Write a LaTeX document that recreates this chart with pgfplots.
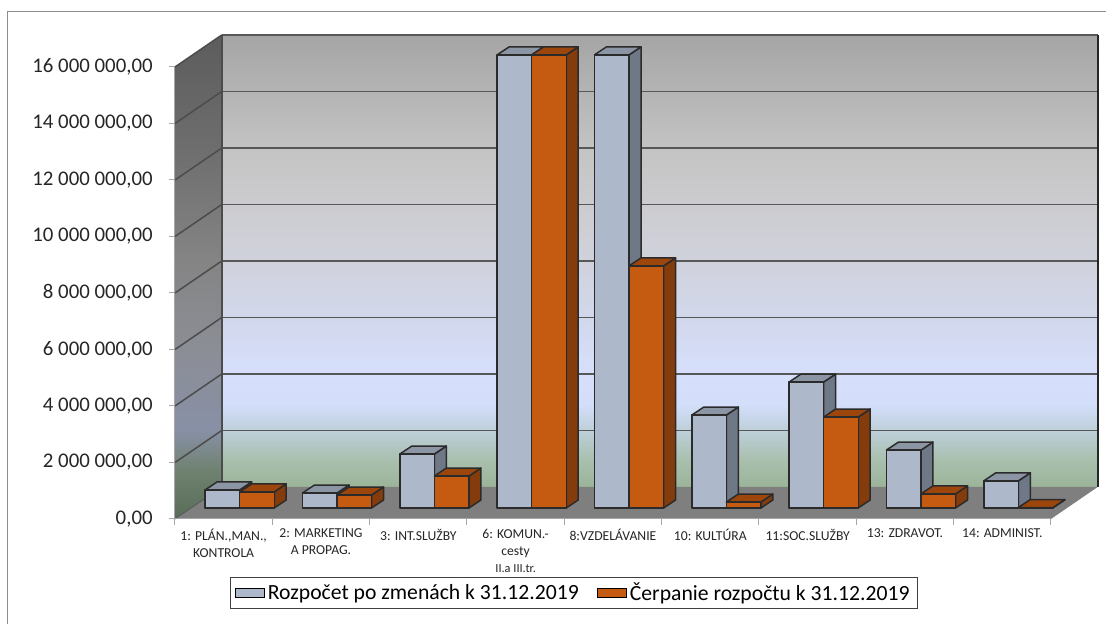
\documentclass[border=0pt]{standalone}
\usepackage{pgfplots}
\pgfplotsset{compat=1.18}
\usepackage{fontspec}
\setmainfont{Carlito}
\definecolor{barblue}{HTML}{ADB9CA}
\definecolor{barbluetop}{HTML}{8B95A3}
\definecolor{barblueside}{HTML}{6F7886}
\definecolor{barorange}{HTML}{C55A11}
\definecolor{barorangetop}{HTML}{9C460C}
\definecolor{barorangeside}{HTML}{843C0C}
\definecolor{floorc}{HTML}{7F7F7F}
\definecolor{gridc}{HTML}{585858}
\definecolor{outl}{HTML}{2B2B2B}
\definecolor{axisgray}{HTML}{A6A6A6}
\definecolor{bwA}{HTML}{9BB498}
\definecolor{bwB}{HTML}{A9BFAE}
\definecolor{bwC}{HTML}{BDCFD9}
\definecolor{bwD}{HTML}{D3DEFA}
\definecolor{bwE}{HTML}{D6DFFC}
\definecolor{bwF}{HTML}{D2D8EC}
\definecolor{bwG}{HTML}{D0D2DC}
\definecolor{bwH}{HTML}{CCCCD0}
\definecolor{bwI}{HTML}{C4C4C4}
\definecolor{bwJ}{HTML}{B4B4B4}
\definecolor{bwK}{HTML}{A5A5A5}
\definecolor{lwA}{HTML}{586C58}
\definecolor{lwB}{HTML}{6F8270}
\definecolor{lwC}{HTML}{8890A6}
\definecolor{lwD}{HTML}{8C8E96}
\definecolor{lwE}{HTML}{848484}
\definecolor{lwF}{HTML}{6E6E6E}
\definecolor{lwG}{HTML}{5C5C5C}
\pgfdeclareverticalshading{backwall}{100bp}{color(0bp)=(bwA); color(25bp)=(bwA); color(28bp)=(bwB); color(31.2bp)=(bwC); color(34.1bp)=(bwD); color(37.4bp)=(bwE); color(43.5bp)=(bwF); color(49.8bp)=(bwG); color(56.2bp)=(bwH); color(62.3bp)=(bwI); color(68.7bp)=(bwJ); color(75bp)=(bwK); color(100bp)=(bwK)}
\pgfdeclareverticalshading{leftwall}{100bp}{color(0bp)=(lwA); color(25bp)=(lwA); color(30bp)=(lwB); color(34.2bp)=(lwC); color(42.5bp)=(lwD); color(51.8bp)=(lwE); color(63.1bp)=(lwF); color(75bp)=(lwG); color(100bp)=(lwG)}
% geometry (axis units)
\def\DX{0.48}
\def\DY{1133000}
\def\yb{389700}
\def\bw{0.355}
\def\bdx{0.123}
\def\bdy{283000}
\pgfplotsset{bstyle/.style={line width=0.9pt, line join=round}}
\newcommand\drawbar[5]{% #1 x0, #2 value, #3 front, #4 top, #5 side
 \edef\temp{%
  \noexpand\addplot[forget plot,fill=#5,draw=outl,bstyle] coordinates {(\fpeval{#1+\bw},\yb) (\fpeval{#1+\bw+\bdx},\fpeval{\yb+\bdy}) (\fpeval{#1+\bw+\bdx},\fpeval{\yb+\bdy+#2}) (\fpeval{#1+\bw},\fpeval{\yb+#2})} -- cycle;
  \noexpand\addplot[forget plot,fill=#4,draw=outl,bstyle] coordinates {(#1,\fpeval{\yb+#2}) (\fpeval{#1+\bw},\fpeval{\yb+#2}) (\fpeval{#1+\bw+\bdx},\fpeval{\yb+#2+\bdy}) (\fpeval{#1+\bdx},\fpeval{\yb+#2+\bdy})} -- cycle;
  \noexpand\addplot[forget plot,fill=#3,draw=outl,bstyle] coordinates {(#1,\yb) (\fpeval{#1+\bw},\yb) (\fpeval{#1+\bw},\fpeval{\yb+#2}) (#1,\fpeval{\yb+#2})} -- cycle;
 }\temp}
\begin{document}
\begin{tikzpicture}
\useasboundingbox (-105pt,-63pt) rectangle (558.6pt,311.4pt);
\fill[white] (-105pt,-63pt) rectangle (558.6pt,311.4pt);
\draw[draw=black!45, line width=0.6pt] (-100.2pt,-63pt) -- (-100.2pt,304.2pt) -- (558.6pt,304.2pt);
\begin{axis}[
  at={(0,0)}, anchor=south west,
  scale only axis, width=553.6pt, height=290.4pt,
  xmin=0, xmax=9.48, ymin=0, ymax=17133000,
  clip=false,
  axis x line*=bottom, axis y line*=left,
  axis line style={draw=none},
  tick align=outside, major tick length=3.6pt,
  tick style={draw=axisgray, line width=0.6pt},
  xtick={0,1,2,3,4,5,6,7,8,9}, xticklabels={},
  extra x ticks={0.5,1.5,2.5,3.5,4.5,5.5,6.5,7.5,8.5},
  extra x tick style={major tick length=0pt, tick style={draw=none}},
  extra x tick labels={{1: PLÁN.,MAN.,\\KONTROLA},{2: MARKETING\\A PROPAG.},{3: INT.SLUŽBY},{6: KOMUN.-\\cesty\\{\fontsize{7.4}{9}\selectfont II.a III.tr.}},{8:VZDELÁVANIE},{10: KULTÚRA},{11:SOC.SLUŽBY},{13: ZDRAVOT.},{14: ADMINIST.}},
  xticklabel style={font=\fontsize{8.2}{10.2}\selectfont, align=center, text=black!85, yshift=-2.4pt},
  ytick={0,2000000,4000000,6000000,8000000,10000000,12000000,14000000,16000000},
  yticklabels={{0,00},{2 000 000,00},{4 000 000,00},{6 000 000,00},{8 000 000,00},{10 000 000,00},{12 000 000,00},{14 000 000,00},{16 000 000,00}},
  yticklabel style={font=\fontsize{12.5}{14}\selectfont, text=black!85, xshift=-6.3pt},
  scaled y ticks=false,
  legend columns=2,
  legend style={at={(axis description cs:0.4324,-0.1529)}, anchor=center, draw=black!75, line width=0.6pt, font=\fontsize{13}{15}\selectfont, inner ysep=1pt, inner xsep=3pt, /tikz/every even column/.append style={column sep=9pt}},
  legend image code/.code={\draw[#1, draw=black!50, line width=0.5pt] (0pt,-3pt) rectangle (6pt,3pt);},
]
% walls and floor
\addplot[forget plot, draw=none, shade, shading=leftwall] coordinates {(0,0) (0,16000000) (\DX,17133000) (\DX,1133000)} -- cycle;
\addplot[forget plot, draw=none, shade, shading=backwall] coordinates {(\DX,1133000) (9.48,1133000) (9.48,17133000) (\DX,17133000)} -- cycle;
\addplot[forget plot, draw=none, fill=floorc] coordinates {(0,0) (9,0) (9.48,1133000) (\DX,1133000)} -- cycle;
% gridlines
\foreach \j in {2000000,4000000,6000000,8000000,10000000,12000000,14000000,16000000}{
  \edef\temp{%
   \noexpand\addplot[forget plot, draw=gridc, line width=1.1pt] coordinates {(\DX,\fpeval{\j+\DY}) (9.48,\fpeval{\j+\DY})};
   \noexpand\addplot[forget plot, draw=black!70, line width=0.9pt] coordinates {(0,\j) (\DX,\fpeval{\j+\DY})};
  }\temp
}
\addplot[forget plot, draw=black!65, line width=0.5pt] coordinates {(0,0) (\DX,1133000)};
\addplot[forget plot, draw=black!70, line width=1pt] coordinates {(\DX,1133000) (\DX,17133000)};
\addplot[forget plot, draw=black!85, line width=1.4pt] coordinates {(9.48,1133000) (9.48,17133000)};
% front edges
\addplot[forget plot, draw=axisgray, line width=0.6pt] coordinates {(0,16000000) (0,0) (9,0)};
% bars: category / budget after changes / spending
\foreach \k/\vb/\vo in {0/640000/570000, 1/530000/460000, 2/1910000/1130000, 3/16040000/16040000, 4/16040000/8570000, 5/3290000/210000, 6/4460000/3220000, 7/2050000/500000, 8/960000/15000}{
  \drawbar{\fpeval{\k+0.31}}{\vb}{barblue}{barbluetop}{barblueside}
  \drawbar{\fpeval{\k+0.665}}{\vo}{barorange}{barorangetop}{barorangeside}
}
\addlegendimage{area legend, fill=barblue}
\addlegendentry{Rozpočet po zmenách k 31.12.2019}
\addlegendimage{area legend, fill=barorange}
\addlegendentry{Čerpanie rozpočtu k 31.12.2019}
\end{axis}
\end{tikzpicture}
\end{document}
